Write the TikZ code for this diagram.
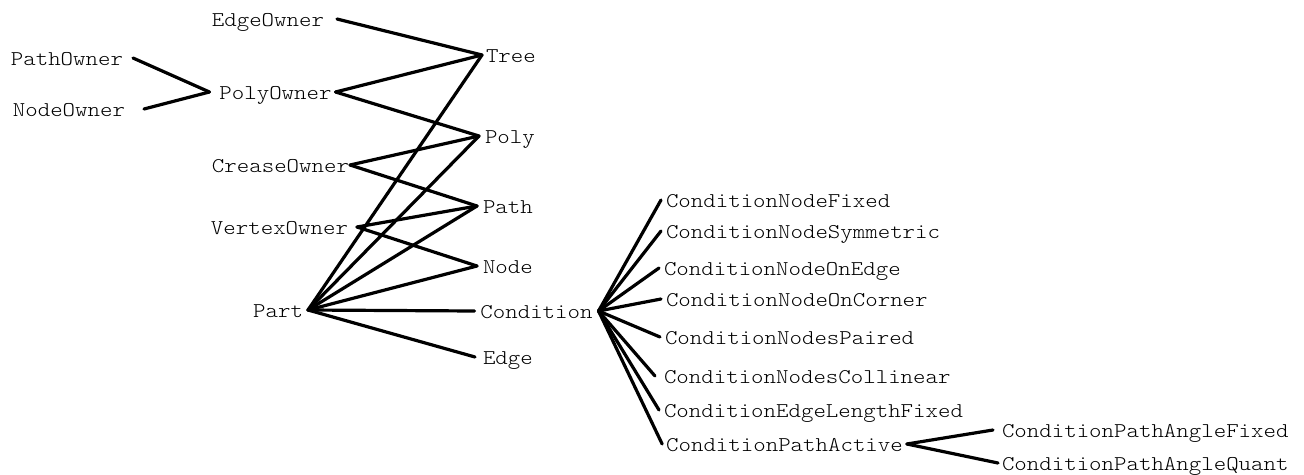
\documentclass[tikz,border=0pt]{standalone}
\usepackage{fontspec}
\newfontfamily\courlike{Latin Modern Mono Light}[FakeStretch=1.13]
\begin{document}
\begin{tikzpicture}[x=1pt,y=-1pt,
  lbl/.style={font=\courlike\fontsize{21pt}{24pt}\selectfont, inner sep=0pt, outer xsep=5pt, outer ysep=0pt, text height=14pt, text depth=0pt},
  link/.style={line width=3.2pt, line cap=round}]
\useasboundingbox (0,0) rectangle (1304,474);
% left column
\node[lbl, anchor=east, outer xsep=13pt] (edgeowner) at (337,19) {EdgeOwner};
\node[lbl, anchor=east, outer xsep=10pt] (pathowner) at (133,58) {PathOwner};
\node[lbl, anchor=east, outer xsep=19pt] (nodeowner) at (144,109) {NodeOwner};
\node[lbl, outer xsep=4pt] (polyowner) at (275.5,92) {PolyOwner};
\node[lbl, anchor=east, outer xsep=1pt] (creaseowner) at (350,165) {CreaseOwner};
\node[lbl, anchor=east, outer xsep=9pt] (vertexowner) at (357,227) {VertexOwner};
\node[lbl, anchor=east] (part) at (308,310) {Part};
% middle column
\node[lbl, anchor=west, outer xsep=4pt] (tree) at (482,55) {Tree};
\node[lbl, anchor=west, outer xsep=6pt] (poly) at (479,136) {Poly};
\node[lbl, anchor=west, outer xsep=6pt] (path) at (477,206) {Path};
\node[lbl, anchor=west, outer xsep=6pt] (nodeb) at (477,266) {Node};
\node[lbl, outer xsep=6pt] (condition) at (536.5,311) {Condition};
\node[lbl, anchor=west, outer xsep=8pt] (edge) at (475,357) {Edge};
% condition children
\node[lbl, anchor=west] (cnf) at (661,200) {ConditionNodeFixed};
\node[lbl, anchor=west] (cns) at (661,231) {ConditionNodeSymmetric};
\node[lbl, anchor=west] (cne) at (659,268) {ConditionNodeOnEdge};
\node[lbl, anchor=west] (cnc) at (661,299) {ConditionNodeOnCorner};
\node[lbl, anchor=west] (cnp) at (660,337) {ConditionNodesPaired};
\node[lbl, anchor=west, outer xsep=9pt] (cncol) at (655,376) {ConditionNodesCollinear};
\node[lbl, anchor=west] (celf) at (659,410) {ConditionEdgeLengthFixed};
\node[lbl, outer xsep=4pt] (cpa) at (784.5,444) {ConditionPathActive};
\node[lbl, anchor=west, outer xsep=9pt] (cpaf) at (993,430) {ConditionPathAngleFixed};
\node[lbl, anchor=west, outer xsep=4pt] (cpaq) at (998,463) {ConditionPathAngleQuant};
% connectors
\draw[link] (edgeowner.east) -- (tree.west);
\draw[link] (polyowner.east) -- (tree.west);
\draw[link] (polyowner.east) -- (poly.west);
\draw[link] (pathowner.east) -- ([xshift=-6pt]polyowner.west);
\draw[link] (nodeowner.east) -- ([xshift=-6pt]polyowner.west);
\draw[link] (creaseowner.east) -- (poly.west);
\draw[link] (creaseowner.east) -- (path.west);
\draw[link] (vertexowner.east) -- (path.west);
\draw[link] (vertexowner.east) -- (nodeb.west);
\foreach \t in {tree,poly,path,nodeb,condition,edge}
  \draw[link] (part.east) -- (\t.west);
\foreach \t in {cnf,cns,cne,cnc,cnp,cncol,celf,cpa}
  \draw[link] (condition.east) -- (\t.west);
\draw[link] (cpa.east) -- (cpaf.west);
\draw[link] (cpa.east) -- (cpaq.west);
\end{tikzpicture}
\end{document}
